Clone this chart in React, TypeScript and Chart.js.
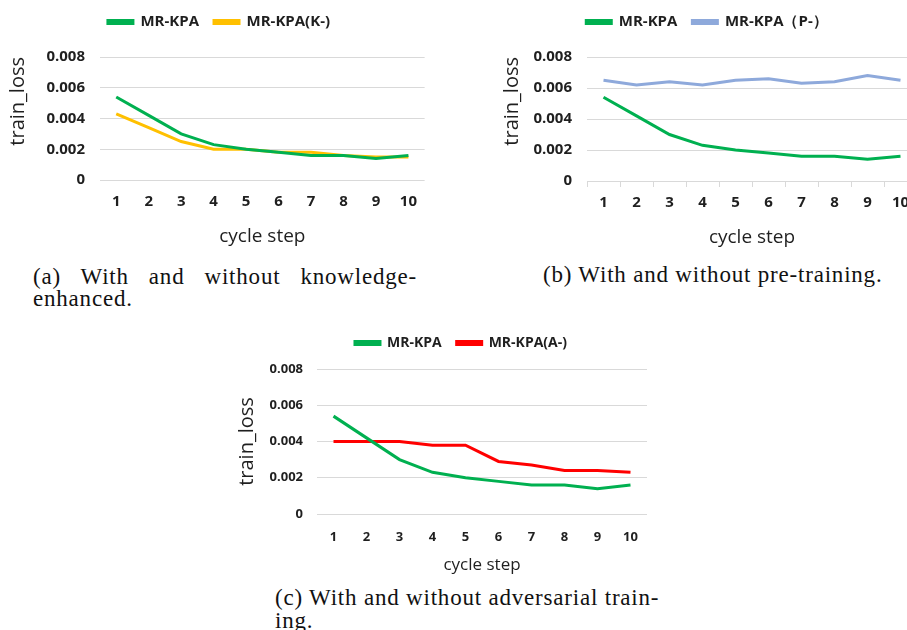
import React, { useEffect, useRef } from 'react';
import { Chart, registerables } from 'chart.js';

Chart.register(...registerables);

// ---------- data ----------
const cycleSteps = ['1', '2', '3', '4', '5', '6', '7', '8', '9', '10'];
const mrKpaLoss = [0.0054, 0.0042, 0.003, 0.0023, 0.002, 0.0018, 0.0016, 0.0016, 0.0014, 0.0016];
const noKnowledgeLoss = [0.0043, 0.0034, 0.0025, 0.002, 0.002, 0.0018, 0.0018, 0.0016, 0.0015, 0.0015];
const noPretrainLoss = [0.0065, 0.0062, 0.0064, 0.0062, 0.0065, 0.0066, 0.0063, 0.0064, 0.0068, 0.0065];
const noAdversarialLoss = [0.004, 0.004, 0.004, 0.0038, 0.0038, 0.0029, 0.0027, 0.0024, 0.0024, 0.0023];
const yTickLabels = ['0', '0.002', '0.004', '0.006', '0.008'];

const nameFull = 'MR-KPA';
const nameK = 'MR-KPA(K-)';
const nameP = 'MR-KPA（P-）';
const nameA = 'MR-KPA(A-)';

const GREEN = '#00B050';
const YELLOW = '#FFC000';
const BLUE = '#8EA9DB';
const RED = '#FF0000';
const GRID = '#d9d9d9';
const TEXT = '#1f1f1f';
const FONT = "'Open Sans', 'Noto Sans', sans-serif";

type PanelProps = {
  left: number;
  top: number;
  width: number;
  height: number;
  pad: { left: number; right: number; top: number; bottom: number };
  otherName: string;
  otherData: number[];
  otherColor: string;
  legendSize: number;
  legendPad: number;
  spacer: number;
  tickSize: number;
  xTitleSize: number;
  yTitleSize: number;
  yTitleAlign: 'start' | 'center' | 'end';
  yAxisWidth: number;
  xAxisHeight: number;
  yTickPad: number;
  xTickPad: number;
  yTitlePad: number;
  rightAxisWidth: number;
  xAxisLine: boolean;
};

function Panel(p: PanelProps) {
  const ref = useRef<HTMLCanvasElement | null>(null);
  useEffect(() => {
    if (!ref.current) return;
    const scales: any = {
      x: {
        type: 'category',
        offset: true,
        grid: p.xAxisLine
          ? { display: true, drawOnChartArea: false, drawTicks: true, tickLength: 6, offset: true, color: GRID }
          : { display: false, drawTicks: false },
        border: { display: p.xAxisLine, color: GRID, width: 1 },
        ticks: {
          color: TEXT,
          font: { family: FONT, size: p.tickSize, weight: 'bold' },
          padding: p.xTickPad,
          maxRotation: 0,
          autoSkip: false,
        },
        title: {
          display: true,
          text: 'cycle step',
          color: TEXT,
          font: { family: FONT, size: p.xTitleSize, lineHeight: 1 },
          padding: 0,
        },
        afterFit: (s: any) => {
          s.height = p.xAxisHeight;
        },
      },
      y: {
        type: 'linear',
        min: 0,
        max: 0.008,
        grid: { color: GRID, lineWidth: 1, drawTicks: false },
        border: { display: false },
        ticks: {
          stepSize: 0.002,
          color: TEXT,
          font: { family: FONT, size: p.tickSize, weight: 'bold' },
          padding: p.yTickPad,
          callback: (_v: any, i: number) => yTickLabels[i],
        },
        title: {
          display: true,
          text: 'train_loss',
          align: p.yTitleAlign,
          color: TEXT,
          font: { family: FONT, size: p.yTitleSize, lineHeight: 1 },
          padding: { top: p.yTitlePad, bottom: 0 },
        },
        afterFit: (s: any) => {
          s.width = p.yAxisWidth;
        },
      },
    };
    if (p.rightAxisWidth > 0) {
      scales.yr = {
        type: 'linear',
        position: 'right',
        display: true,
        grid: { display: false, drawTicks: false },
        border: { display: false },
        ticks: { display: false },
        afterFit: (s: any) => {
          s.width = p.rightAxisWidth;
        },
      };
    }
    const chart = new Chart(ref.current, {
      type: 'line',
      data: {
        labels: cycleSteps,
        datasets: [
          {
            label: nameFull,
            data: mrKpaLoss,
            borderColor: GREEN,
            backgroundColor: GREEN,
            borderWidth: 3,
            pointRadius: 0,
            tension: 0,
          },
          {
            label: p.otherName,
            data: p.otherData,
            borderColor: p.otherColor,
            backgroundColor: p.otherColor,
            borderWidth: 3,
            pointRadius: 0,
            tension: 0,
          },
        ],
      },
      options: {
        responsive: false,
        animation: false,
        devicePixelRatio: 1,
        layout: { padding: p.pad },
        scales,
        plugins: {
          legend: {
            display: true,
            position: 'top',
            labels: {
              boxWidth: 25,
              boxHeight: 3,
              padding: p.legendPad,
              color: TEXT,
              font: { family: FONT, size: p.legendSize, weight: 'bold' },
            },
          },
          subtitle: {
            display: true,
            text: '',
            weight: 500,
            padding: 0,
            font: { size: p.spacer, lineHeight: 1 },
          } as any,
          tooltip: { enabled: false },
        },
      },
    });
    return () => chart.destroy();
  }, []);
  return (
    <canvas
      ref={ref}
      width={p.width}
      height={p.height}
      style={{ position: 'absolute', left: p.left, top: p.top, width: p.width, height: p.height }}
    />
  );
}

const capStyle: React.CSSProperties = {
  position: 'absolute',
  fontFamily: "'Liberation Serif', 'Times New Roman', serif",
  fontSize: 23,
  lineHeight: '22px',
  letterSpacing: '0.8px',
  color: '#111',
  whiteSpace: 'nowrap',
};

export default function App() {
  return (
    <div
      style={{
        position: 'fixed',
        left: 0,
        top: 0,
        width: 907,
        height: 630,
        overflow: 'hidden',
        background: '#fff',
      }}
    >
      <Panel
        left={0}
        top={0}
        width={430}
        height={250}
        pad={{ left: 8, right: 0, top: -0.5, bottom: 3.5 }}
        otherName={nameK}
        otherData={noKnowledgeLoss}
        otherColor={YELLOW}
        legendSize={15}
        legendPad={15}
        spacer={17.5}
        tickSize={15}
        xTitleSize={19}
        yTitleSize={20}
        yTitleAlign="end"
        yAxisWidth={92}
        xAxisHeight={66.5}
        yTickPad={15}
        xTickPad={13}
        yTitlePad={0}
        rightAxisWidth={0}
        xAxisLine={false}
      />
      <Panel
        left={470}
        top={0}
        width={447}
        height={250}
        pad={{ left: 27, right: 0, top: -0.5, bottom: 2.5 }}
        otherName={nameP}
        otherData={noPretrainLoss}
        otherColor={BLUE}
        legendSize={15}
        legendPad={15}
        spacer={17.5}
        tickSize={15}
        xTitleSize={19}
        yTitleSize={20}
        yTitleAlign="end"
        yAxisWidth={90}
        xAxisHeight={66.5}
        yTickPad={15}
        xTickPad={7}
        yTitlePad={5}
        rightAxisWidth={0}
        xAxisLine={true}
      />
      <Panel
        left={230}
        top={320}
        width={455}
        height={260}
        pad={{ left: 7, right: 0, top: 1, bottom: 6.5 }}
        otherName={nameA}
        otherData={noAdversarialLoss}
        otherColor={RED}
        legendSize={14}
        legendPad={15}
        spacer={9}
        tickSize={13}
        xTitleSize={17}
        yTitleSize={20}
        yTitleAlign="center"
        yAxisWidth={80}
        xAxisHeight={59.5}
        yTickPad={14}
        xTickPad={15}
        yTitlePad={0}
        rightAxisWidth={38}
        xAxisLine={false}
      />
      <div style={{ ...capStyle, left: 33, top: 266, width: 384, textAlign: 'justify', textAlignLast: 'justify' as any }}>
        (a) With and without knowledge-
      </div>
      <div style={{ ...capStyle, left: 33, top: 288 }}>enhanced.</div>
      <div style={{ ...capStyle, left: 543, top: 264 }}>(b) With and without pre-training.</div>
      <div style={{ ...capStyle, left: 275, top: 587, width: 383, textAlign: 'justify', textAlignLast: 'justify' as any }}>
        (c) With and without adversarial train-
      </div>
      <div style={{ ...capStyle, left: 275, top: 610 }}>ing.</div>
    </div>
  );
}
